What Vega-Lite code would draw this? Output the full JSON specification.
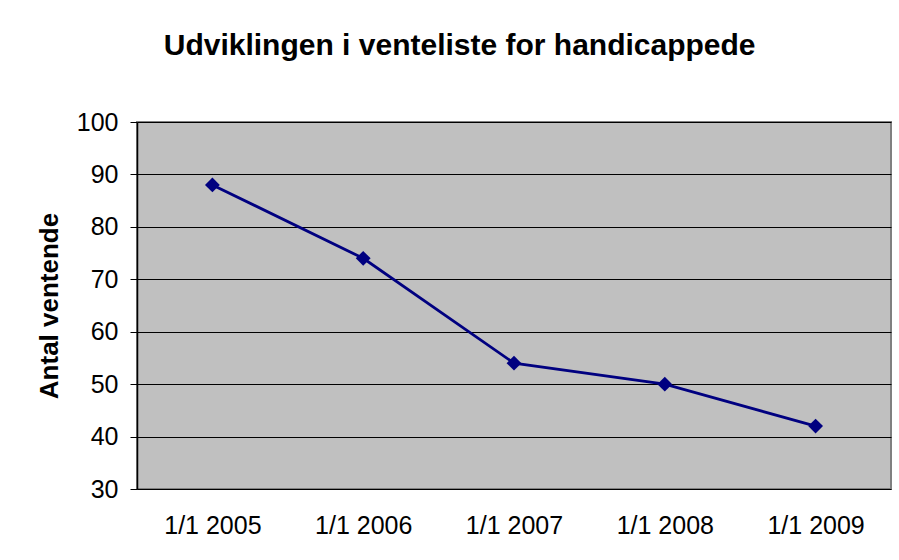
{
  "$schema": "https://vega.github.io/schema/vega-lite/v6.json",
  "autosize": "none",
  "width": 754,
  "height": 367,
  "padding": {"left": 137, "top": 122, "right": 8, "bottom": 71},
  "background": "white",
  "title": {
    "text": "Udviklingen i venteliste for handicappede",
    "anchor": "middle",
    "frame": "bounds",
    "font": "Liberation Sans",
    "fontSize": 30,
    "fontWeight": "bold",
    "color": "black",
    "offset": 49,
    "dx": -4
  },
  "data": {
    "values": [
      {"dato": "1/1 2005", "antal": 88},
      {"dato": "1/1 2006", "antal": 74},
      {"dato": "1/1 2007", "antal": 54},
      {"dato": "1/1 2008", "antal": 50},
      {"dato": "1/1 2009", "antal": 42}
    ]
  },
  "mark": {
    "type": "line",
    "color": "#000080",
    "strokeWidth": 2.8,
    "point": {"shape": "diamond", "size": 220, "filled": true, "color": "#000080", "opacity": 1}
  },
  "encoding": {
    "x": {
      "field": "dato",
      "type": "ordinal",
      "sort": null,
      "scale": {"paddingInner": 0, "paddingOuter": 0},
      "axis": {
        "title": null,
        "labelAngle": 0,
        "ticks": false,
        "domain": false,
        "grid": false,
        "labelFont": "Liberation Sans",
        "labelFontSize": 25,
        "labelColor": "black",
        "labelPadding": 24
      }
    },
    "y": {
      "field": "antal",
      "type": "quantitative",
      "scale": {"domain": [30, 100], "nice": false, "zero": false},
      "axis": {
        "title": "Antal ventende",
        "titleFont": "Liberation Sans",
        "titleFontSize": 26,
        "titleFontWeight": "bold",
        "titleColor": "black",
        "titlePadding": 14,
        "values": [30, 40, 50, 60, 70, 80, 90, 100],
        "labelFont": "Liberation Sans",
        "labelFontSize": 25,
        "labelColor": "black",
        "labelPadding": 12,
        "tickSize": 7,
        "tickColor": "black",
        "tickWidth": 1,
        "domainColor": "black",
        "domainWidth": 1.5,
        "gridColor": "black",
        "gridOpacity": 1,
        "gridWidth": 1
      }
    }
  },
  "config": {
    "view": {"fill": "#C0C0C0", "stroke": "#808080", "strokeWidth": 2}
  }
}
